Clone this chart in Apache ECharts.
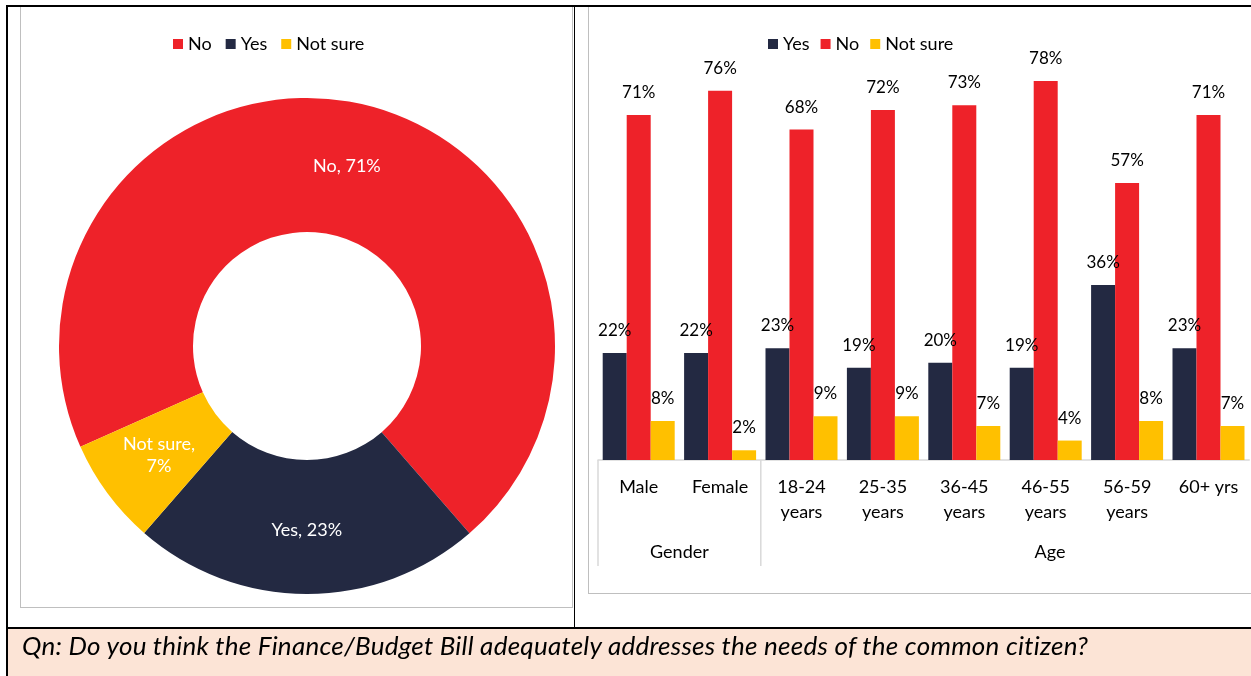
<!DOCTYPE html>
<html>
<head>
<meta charset="utf-8">
<script src="https://cdn.jsdelivr.net/npm/echarts@6/dist/echarts.min.js"></script>
<style>
  html, body { margin: 0; padding: 0; background: #fff; }
  #wrap { position: relative; width: 1251px; height: 676px; overflow: hidden; background: #fff; font-family: Lato, "Open Sans", sans-serif; }
  .ln { position: absolute; }
  #chart { position: absolute; left: 0; top: 0; width: 1251px; height: 676px; }
  #caption { position: absolute; left: 22px; top: 629px; line-height: 32px; font-size: 26px; letter-spacing: 0.25px; font-style: italic; color: #000; white-space: nowrap; font-family: Lato, "Open Sans", sans-serif; }
</style>
</head>
<body>
<div id="wrap">
  <div class="ln" style="left:8px; top:629px; width:1243px; height:47px; background:#FCE4D6;"></div>
  <div class="ln" style="left:20px; top:6px; width:553px; height:602px; border:1px solid #BFBFBF; box-sizing:border-box;"></div>
  <div class="ln" style="left:588px; top:6px; width:700px; height:588px; border:1px solid #BFBFBF; box-sizing:border-box;"></div>
  <div class="ln" style="left:6px; top:5px; width:1245px; height:2px; background:#000;"></div>
  <div class="ln" style="left:6px; top:5px; width:2px; height:671px; background:#000;"></div>
  <div class="ln" style="left:574px; top:5px; width:1px; height:623px; background:#000;"></div>
  <div class="ln" style="left:6px; top:627px; width:1245px; height:2px; background:#000;"></div>
  <div id="chart"></div>
  <div id="caption">Qn: Do you think the Finance/Budget Bill adequately addresses the needs of the common citizen?</div>
</div>
<script>
// ---- data ----
const overallNames = ['No', 'Yes', 'Not sure'];
const overallValues = [71, 23, 7];
const categories = ['Male', 'Female', '18-24\nyears', '25-35\nyears', '36-45\nyears', '46-55\nyears', '56-59\nyears', '60+ yrs'];
const yesValues = [22, 22, 23, 19, 20, 19, 36, 23];
const noValues = [71, 76, 68, 72, 73, 78, 57, 71];
const notSureValues = [8, 2, 9, 9, 7, 4, 8, 7];
const groupLabels = ['Gender', 'Age'];
const groupSizes = [2, 6];
const barSeriesNames = ['Yes', 'No', 'Not sure'];

// ---- styles ----
const colors = { 'No': '#EE2229', 'Yes': '#232942', 'Not sure': '#FFC000' };
const FONT = 'Lato, "Open Sans", sans-serif';

const chart = echarts.init(document.getElementById('chart'), null, { renderer: 'canvas' });

const option = {
  animation: false,
  textStyle: { fontFamily: FONT },
  legend: [
    {
      left: 168, top: 30, itemWidth: 10, itemHeight: 10, itemGap: 14, icon: 'rect',
      data: overallNames,
      textStyle: { fontSize: 18, color: '#000', fontFamily: FONT }
    },
    {
      left: 763, top: 30, itemWidth: 10, itemHeight: 10, itemGap: 11, icon: 'rect',
      data: barSeriesNames,
      textStyle: { fontSize: 18, color: '#000', fontFamily: FONT }
    }
  ],
  grid: { left: 598, width: 651.2, top: 22.6, bottom: 216, containLabel: false },
  xAxis: {
    type: 'category',
    data: categories,
    axisLine: { lineStyle: { color: '#D9D9D9', width: 1.5 } },
    axisTick: { show: false },
    axisLabel: { fontSize: 18, color: '#000', lineHeight: 25, margin: 15, interval: 0, fontFamily: FONT }
  },
  yAxis: { type: 'value', min: 0, max: 90, show: false, splitLine: { show: false } },
  series: [
    {
      type: 'pie',
      name: 'Overall',
      center: [307, 346],
      radius: [114, 248],
      startAngle: 204,
      clockwise: true,
      avoidLabelOverlap: false,
      label: {
        show: true, position: 'inside', color: '#fff', fontSize: 18, lineHeight: 22, fontFamily: FONT,
        formatter: function (p) {
          return p.name.length > 4 ? p.name + ',\n' + p.value + '%' : p.name + ', ' + p.value + '%';
        }
      },
      labelLine: { show: false },
      itemStyle: { borderWidth: 0 },
      data: overallNames.map((n, i) => ({ name: n, value: overallValues[i], itemStyle: { color: colors[n] } }))
    },
    {
      type: 'bar', name: 'Yes', data: yesValues, barWidth: 24, barGap: '0%',
      itemStyle: { color: colors['Yes'] },
      label: { show: true, position: 'top', distance: 14, fontSize: 17, color: '#000', formatter: '{c}%', fontFamily: FONT }
    },
    {
      type: 'bar', name: 'No', data: noValues, barWidth: 24, barGap: '0%',
      itemStyle: { color: colors['No'] },
      label: { show: true, position: 'top', distance: 14, fontSize: 17, color: '#000', formatter: '{c}%', fontFamily: FONT }
    },
    {
      type: 'bar', name: 'Not sure', data: notSureValues, barWidth: 24, barGap: '0%',
      itemStyle: { color: colors['Not sure'] },
      label: { show: true, position: 'top', distance: 14, fontSize: 17, color: '#000', formatter: '{c}%', fontFamily: FONT }
    }
  ]
};
chart.setOption(option);

// group separators & group labels, positioned from the category axis
const c0 = chart.convertToPixel({ xAxisIndex: 0 }, 0);
const c1 = chart.convertToPixel({ xAxisIndex: 0 }, 1);
const bw = c1 - c0;
const axisY = chart.convertToPixel({ yAxisIndex: 0 }, 0);
const graphics = [];
let start = 0;
groupLabels.forEach((g, gi) => {
  const x0 = c0 + (start - 0.5) * bw;
  const x1 = c0 + (start + groupSizes[gi] - 0.5) * bw;
  graphics.push({
    type: 'line', shape: { x1: x0, y1: axisY, x2: x0, y2: axisY + 106 },
    style: { stroke: '#D9D9D9', lineWidth: 1.5 }, silent: true
  });
  const cx = gi === groupLabels.length - 1 ? (x0 + x1) / 2 + 45 : (x0 + x1) / 2;
  graphics.push({
    type: 'text', x: cx, y: axisY + 92,
    style: { text: g, fontSize: 18, fill: '#000', align: 'center', verticalAlign: 'middle', fontFamily: FONT }, silent: true
  });
  start += groupSizes[gi];
});
chart.setOption({ graphic: graphics });
</script>
</body>
</html>
